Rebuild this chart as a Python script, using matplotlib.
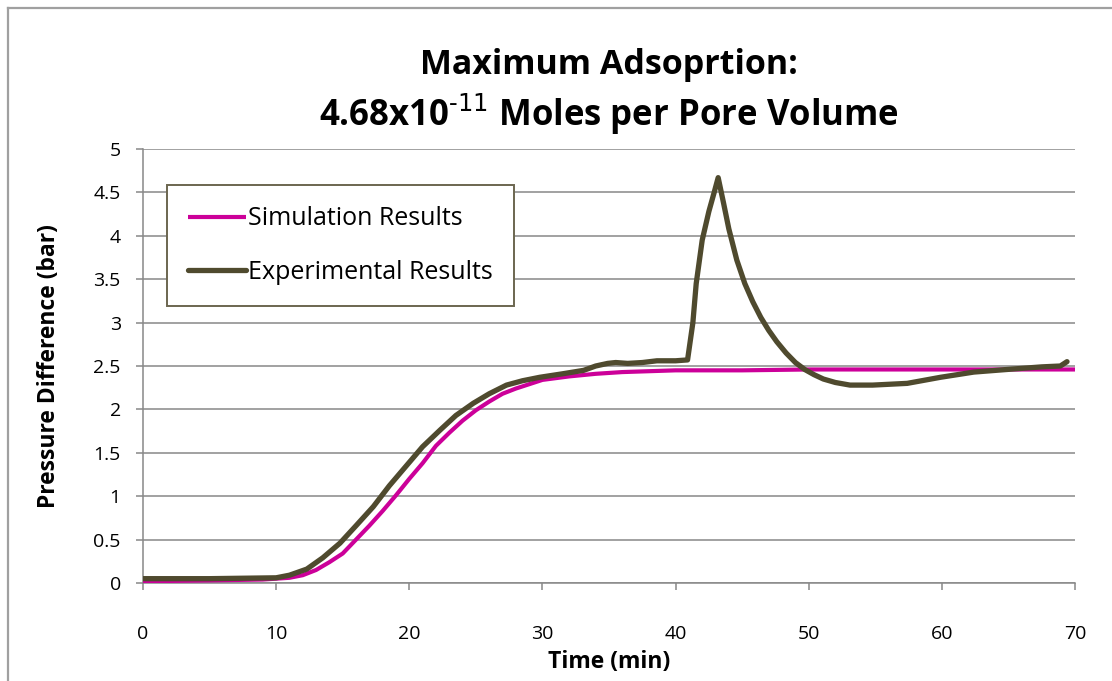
import matplotlib.pyplot as plt
from matplotlib.lines import Line2D

plt.rcParams['font.family'] = ['Open Sans', 'DejaVu Sans']
plt.rcParams['mathtext.default'] = 'regular'

# Simulation curve (min, bar)
t_sim = [0, 5, 9, 11, 12, 13, 14, 15, 16, 17, 18, 19, 20, 21, 22, 23, 24, 25,
         26, 27, 28, 29, 30, 32, 34, 36, 40, 45, 50, 60, 70]
p_sim = [0.02, 0.03, 0.04, 0.06, 0.09, 0.15, 0.24, 0.34, 0.50, 0.66, 0.83, 1.01,
         1.20, 1.38, 1.58, 1.73, 1.87, 1.99, 2.09, 2.18, 2.24, 2.29, 2.34, 2.38,
         2.41, 2.43, 2.45, 2.45, 2.46, 2.46, 2.46]

# Experimental curve (min, bar)
t_exp = [0, 5, 10, 11, 12.3, 13.5, 14.8, 16, 17.3, 18.5, 20, 21, 22.3, 23.5,
         24.8, 26, 27.3, 28.5, 29.8, 31.5, 33.1, 34, 34.9, 35.5, 36.4, 37.5,
         38.6, 40, 40.9, 41.3, 41.55, 42.0, 42.5, 42.9, 43.2, 43.6, 44.0, 44.6,
         45.2, 45.8, 46.4, 47.0, 47.6, 48.3, 49.0, 49.7, 50.4, 51.1, 52.0, 53.1,
         54.8, 57.4, 59.9, 62.4, 64.9, 67.5, 68.9, 69.4]
p_exp = [0.05, 0.05, 0.06, 0.09, 0.16, 0.29, 0.46, 0.66, 0.88, 1.12, 1.39, 1.57,
         1.76, 1.93, 2.07, 2.18, 2.28, 2.33, 2.37, 2.41, 2.45, 2.50, 2.53, 2.54,
         2.53, 2.54, 2.56, 2.56, 2.57, 3.00, 3.45, 3.95, 4.28, 4.50, 4.67, 4.38,
         4.08, 3.72, 3.45, 3.24, 3.06, 2.91, 2.78, 2.65, 2.54, 2.46, 2.40, 2.35,
         2.31, 2.28, 2.28, 2.30, 2.37, 2.43, 2.46, 2.49, 2.50, 2.55]

x_ticks = [0, 10, 20, 30, 40, 50, 60, 70]
y_ticks = [0, 0.5, 1, 1.5, 2, 2.5, 3, 3.5, 4, 4.5, 5]

sim_color = '#CC0099'
exp_color = '#4F4A2E'
grid_color = '#888888'

W, H = 1112, 681
fig = plt.figure(figsize=(W / 100, H / 100), dpi=100)
ax = fig.add_axes([143 / W, 1 - 583 / H, (1075 - 143) / W, (583 - 149) / H])

ax.plot(t_sim, p_sim, color=sim_color, lw=3.0, label='Simulation Results',
        solid_capstyle='butt', zorder=3)
ax.plot(t_exp, p_exp, color=exp_color, lw=3.8, label='Experimental Results',
        solid_joinstyle='round', solid_capstyle='round', zorder=4)

ax.set_xlim(0, 70)
ax.set_ylim(0, 5)
ax.set_xticks(x_ticks)
ax.set_yticks(y_ticks)
ax.set_yticklabels([f'{v:g}' for v in y_ticks])

ax.grid(axis='y', color=grid_color, lw=1.1)
ax.set_axisbelow(True)
for s in ['top', 'right']:
    ax.spines[s].set_visible(False)
for s in ['left', 'bottom']:
    ax.spines[s].set_color(grid_color)
    ax.spines[s].set_linewidth(1.1)
ax.tick_params(axis='x', direction='out', length=5, width=1.1, color=grid_color,
               labelsize=14, pad=25)
ax.tick_params(axis='y', direction='out', length=5, width=1.1, color=grid_color,
               labelsize=14, pad=11)

ax.set_xlabel('Time (min)', fontsize=16.5, fontweight='bold', labelpad=5)
ax.set_ylabel('Pressure Difference (bar)', fontsize=16.5, fontweight='bold',
              labelpad=23)

# two-line title with superscript
cx = (143 + 1075) / 2 / W
fig.text(cx, 1 - 74 / H, 'Maximum Adsoprtion:', ha='center', va='baseline',
         fontsize=24.5, fontweight='bold')
fig.text(cx, 1 - 126 / H, r'4.68x10$^{\text{-11}}$ Moles per Pore Volume', ha='center',
         va='baseline', fontsize=25, fontweight='bold')

leg = ax.legend(loc='upper left', bbox_to_anchor=((167 - 143) / 932, (583 - 185) / 434),
                frameon=True, fancybox=False, fontsize=18, handlelength=2.3,
                handletextpad=0.1, labelspacing=1.15, borderpad=0.85,
                borderaxespad=0)
leg.get_frame().set_edgecolor('#6B6650')
leg.get_frame().set_linewidth(1.4)
leg.get_frame().set_alpha(1)

# outer chart border
fig.add_artist(Line2D([8 / W, 8 / W], [0, 1 - 8 / H], transform=fig.transFigure,
                      color='#A0A0A0', lw=1.6))
fig.add_artist(Line2D([8 / W, 1], [1 - 8 / H, 1 - 8 / H], transform=fig.transFigure,
                      color='#A0A0A0', lw=1.6))

fig.savefig('out.png', dpi=100)
